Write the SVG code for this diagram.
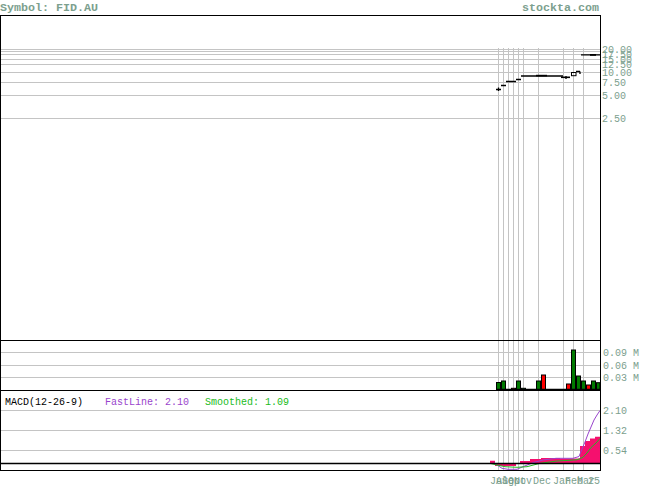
<svg xmlns="http://www.w3.org/2000/svg" width="655" height="486" viewBox="0 0 655 486">
<style>
.t{font-family:"Liberation Mono","DejaVu Sans Mono",monospace;fill:#7ca08e}
.ax{font-size:10px}
.hd{font-size:11.67px;font-weight:bold}
.g{stroke:#c4c4c4;stroke-width:1;fill:none}
.f{stroke:#000;stroke-width:1;fill:none}
.vg{fill:#007a00;stroke:#000;stroke-width:1}
.vr{fill:#ff0000;stroke:#000;stroke-width:1}
.pb{stroke:#000;stroke-width:1.3;fill:none}
</style>
<rect width="655" height="486" fill="#fff"/>
<g id="header">
<text class="t hd" x="0" y="10.5">Symbol: FID.AU</text>
<text class="t hd" x="599" y="10.5" text-anchor="end">stockta.com</text>
</g>
<g id="grid">
<path class="g" d="M0 49.5H600M0 51.5H600M0 54.5H600M0 59.5H600M0 64.5H600M0 72.5H600M0 82.5H600M0 95.5H600M0 118.5H600"/>
<path class="g" d="M0 352.5H600M0 365.5H600M0 377.5H600"/>
<path class="g" d="M0 410.5H600M0 430.5H600M0 450.5H600"/>
<path class="g" d="M498.5 48V470M503.5 48V470M508.5 48V470M513.5 48V470M518.5 48V470M523.5 48V470M538.5 48V470M563.5 48V470M573.5 48V470M583.5 48V470"/>
</g>
<g id="price-axis">
<text class="t ax" x="602" y="53">20.00</text>
<text class="t ax" x="602" y="58">17.50</text>
<text class="t ax" x="602" y="63">15.00</text>
<text class="t ax" x="602" y="68">12.50</text>
<text class="t ax" x="602" y="76">10.00</text>
<text class="t ax" x="602" y="86">7.50</text>
<text class="t ax" x="602" y="99">5.00</text>
<text class="t ax" x="602" y="122">2.50</text>
</g>
<g id="price-bars">
<path class="pb" d="M496 89.5H501M498.5 87.5V91M501 85.5H506M506 81.5H516M516 79.5H521M521 76H563M566 76V79M580 71.5V74"/>
<rect x="536" y="74.8" width="11" height="1.6" fill="#000"/>
<rect x="561" y="76.5" width="9" height="1.6" fill="#000"/>
<rect x="571.5" y="72.5" width="4.5" height="3.2" fill="none" stroke="#000" stroke-width="1"/>
<path class="pb" d="M576 71.5H580M581 54.8H600"/>
<rect x="590" y="54" width="6" height="1.8" fill="#000"/>
</g>
<g id="volume-axis">
<text class="t ax" x="603" y="356">0.09 M</text>
<text class="t ax" x="603" y="368.5">0.06 M</text>
<text class="t ax" x="603" y="380.5">0.03 M</text>
</g>
<g id="volume-bars">
<rect class="vg" x="496.5" y="382.5" width="4" height="7.5"/>
<rect class="vg" x="501.5" y="381" width="4" height="9"/>
<rect class="vr" x="511.5" y="388.3" width="4" height="1.7"/>
<rect class="vg" x="516.5" y="381" width="4" height="9"/>
<rect class="vg" x="521.5" y="388.3" width="4" height="1.7"/>
<rect class="vg" x="536.5" y="381" width="4" height="9"/>
<rect class="vr" x="541.5" y="375" width="4" height="15"/>
<rect class="vr" x="566.5" y="384" width="4" height="6"/>
<rect class="vg" x="571.5" y="350" width="4" height="40"/>
<rect class="vg" x="576.5" y="376" width="4" height="14"/>
<rect class="vg" x="581.5" y="381" width="4" height="9"/>
<rect class="vr" x="586.5" y="385" width="4" height="5"/>
<rect class="vg" x="591.5" y="381" width="4" height="9"/>
<rect class="vg" x="596.5" y="382.7" width="3.5" height="7.3"/>
<path d="M496 389.5H600" stroke="#000" stroke-width="1.5"/>
</g>
<g id="macd-legend">
<text class="t ax" x="5" y="405" style="fill:#000">MACD(12-26-9)</text>
<text class="t ax" x="105" y="405" style="fill:#9944cc">FastLine: 2.10</text>
<text class="t ax" x="205" y="405" style="fill:#22bb22">Smoothed: 1.09</text>
</g>
<g id="macd-axis">
<text class="t ax" x="603" y="414">2.10</text>
<text class="t ax" x="603" y="434">1.32</text>
<text class="t ax" x="603" y="454">0.54</text>
</g>
<g id="macd">
<polygon fill="#f5106e" points="490,463.5 490,460.8 495,460.8 495,466 516,466 516,463.5 520,463.5 520,461 530,461 530,459 541,459 541,458 560,458 560,458.5 580,458.5 580,446 585,446 585,441 590,441 590,438.5 595,438.5 595,436.7 600,436.7 600,463.5"/>
<polyline fill="none" stroke="#9944cc" stroke-width="1" points="494,462.5 497,465 502,468.3 508,469.3 517,469.3 523,466.7 533,462.7 543,460 556,458.3 573,458.3 579,456.5 582,449 585,442 588,434 591,427 594,420 597,415 600,410.5"/>
<polyline fill="none" stroke="#22bb22" stroke-width="1" points="490,463.3 497,465 505,466.7 517,467.3 527,466.7 540,463.3 557,461 577,459.8 583,457.3 587,453 591,447.5 596,443 600,438.5"/>
<path d="M0 463.5H600" stroke="#000" stroke-width="1.5"/>
</g>
<g id="frames">
<rect class="f" x="0.5" y="15.5" width="600" height="455"/>
<path class="f" d="M0 340.5H601M0 390.5H601"/>
</g>
<g id="date-axis">
<text class="t ax" x="490" y="484">Jul</text>
<text class="t ax" x="496" y="484">Aug</text>
<text class="t ax" x="502" y="484">Sep</text>
<text class="t ax" x="508" y="484">Oct</text>
<text class="t ax" x="514" y="484">Nov</text>
<text class="t ax" x="533" y="484">Dec</text>
<text class="t ax" x="553" y="484">Jan</text>
<text class="t ax" x="565" y="484">Feb</text>
<text class="t ax" x="577" y="484">Mar</text>
<text class="t ax" x="588" y="484">25</text>
</g>
</svg>
